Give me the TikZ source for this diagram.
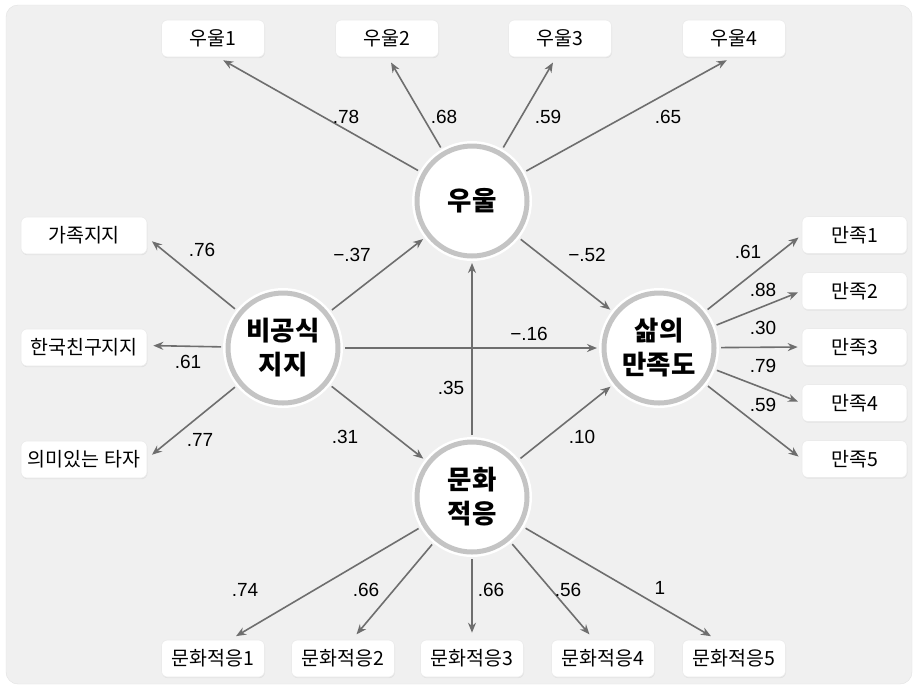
\documentclass[tikz,border=0pt]{standalone}
\usepackage{fontspec}
\setmainfont{Liberation Sans}
\newfontfamily\kr{Noto Sans CJK KR}
\usetikzlibrary{arrows.meta,calc,shadows}
\definecolor{panel}{HTML}{F0F0F0}
\definecolor{panelborder}{HTML}{E2E2E2}
\definecolor{ring}{HTML}{C4C4C4}
\definecolor{linec}{HTML}{6E6E6E}
\begin{document}
\begin{tikzpicture}[x=1pt,y=-1pt,
  latent/.style={circle,minimum size=110pt,inner sep=0pt,fill=white,draw=ring,line width=5pt,
    preaction={draw=white,line width=10pt},outer sep=7pt,
    font=\kr\bfseries\fontsize{26.5}{34}\selectfont,align=center},
  obs/.style={rectangle,rounded corners=6pt,fill=white,draw=black!8,line width=0.6pt,
    minimum height=37pt,inner sep=0pt,font=\kr\fontsize{19.5}{22}\selectfont,
    drop shadow={opacity=0.12,shadow xshift=0.5pt,shadow yshift=-1.2pt}},
  lab/.style={font=\fontsize{19}{21}\selectfont,inner sep=0pt},
  arr/.style={draw=linec,line width=1.6pt,-{Stealth[length=10pt,width=8pt]}}]

% background
\path[use as bounding box,fill=white] (0,0) rectangle (917,689);
\draw[fill=panel,draw=panelborder,rounded corners=12pt] (6,5) rectangle (912,684);

% latent variables
\node[latent] (u) at (472,201) {우울};
\node[latent] (b) at (283,348) {비공식\\지지};
\node[latent] (s) at (659,348) {삶의\\만족도};
\node[latent] (c) at (472,497) {문화\\적응};

% observed: depression
\node[obs,minimum width=103pt] (u1) at (213,38.5) {우울1};
\node[obs,minimum width=103pt] (u2) at (387,38.5) {우울2};
\node[obs,minimum width=103pt] (u3) at (560,38.5) {우울3};
\node[obs,minimum width=103pt] (u4) at (734,38.5) {우울4};

% observed: support
\node[obs,minimum width=126pt] (g1) at (84,235.5) {가족지지};
\node[obs,minimum width=126pt] (g2) at (84,347.5) {한국친구지지};
\node[obs,minimum width=126pt] (g3) at (84,459.5) {의미있는 타자};

% observed: satisfaction
\node[obs,minimum width=105pt] (s1) at (854.5,235) {만족1};
\node[obs,minimum width=105pt] (s2) at (854.5,291) {만족2};
\node[obs,minimum width=105pt] (s3) at (854.5,347) {만족3};
\node[obs,minimum width=105pt] (s4) at (854.5,403) {만족4};
\node[obs,minimum width=105pt] (s5) at (854.5,459) {만족5};

% observed: acculturation
\node[obs,minimum width=103pt] (c1) at (213,658.5) {문화적응1};
\node[obs,minimum width=103pt] (c2) at (343,658.5) {문화적응2};
\node[obs,minimum width=103pt] (c3) at (472,658.5) {문화적응3};
\node[obs,minimum width=103pt] (c4) at (603,658.5) {문화적응4};
\node[obs,minimum width=103pt] (c5) at (734,658.5) {문화적응5};

% measurement arrows
\draw[arr,shorten >=6pt] (u) -- ($(u1.south)+(5,0)$);
\draw[arr,shorten >=6pt] (u) -- ($(u2.south)+(1,0)$);
\draw[arr,shorten >=6pt] (u) -- ($(u3.south)+(-4,0)$);
\draw[arr,shorten >=6pt] (u) -- ($(u4.south)+(-2,0)$);

\draw[arr,shorten >=6pt] (b) -- ($(g1.east)+(0,2)$);
\draw[arr,shorten >=6pt] (b) -- ($(g2.east)+(0,-2)$);
\draw[arr,shorten >=6pt] (b) -- ($(g3.east)+(0,-1)$);

\draw[arr,shorten >=4pt] (s) -- (s1.west);
\draw[arr,shorten >=4pt] (s) -- (s2.west);
\draw[arr,shorten >=4pt] (s) -- (s3.west);
\draw[arr,shorten >=4pt] (s) -- (s4.west);
\draw[arr,shorten >=4pt] (s) -- (s5.west);

\draw[arr,shorten >=7pt] (c) -- ($(c1.north)+(17,0)$);
\draw[arr,shorten >=7pt] (c) -- ($(c2.north)+(9,0)$);
\draw[arr,shorten >=7pt] (c) -- (c3.north);
\draw[arr,shorten >=7pt] (c) -- ($(c4.north)+(-9,0)$);
\draw[arr,shorten >=7pt] (c) -- ($(c5.north)+(-17,0)$);

% structural arrows
\draw[arr] (b) -- (u);
\draw[arr] (b) -- (s);
\draw[arr] (b) -- (c);
\draw[arr] (u) -- (s);
\draw[arr] (c) -- (u);
\draw[arr] (c) -- (s);

% labels
\node[lab] (l1) at (346,117) {.78};
\node[lab] (l2) at (444,117) {.68};
\node[lab] (l3) at (548,117) {.59};
\node[lab] (l4) at (668,117) {.65};
\node[lab] (l5) at (352,255) {−.37};
\node[lab] (l6) at (587,255) {−.52};
\node[lab] (l7) at (529,334) {−.16};
\node[lab] (l8) at (451,388) {.35};
\node[lab] (l9) at (345,437) {.31};
\node[lab] (l10) at (582,437) {.10};
\node[lab] (l11) at (202,250) {.76};
\node[lab] (l12) at (188,362) {.61};
\node[lab] (l13) at (200,440) {.77};
\node[lab] (l14) at (748,252) {.61};
\node[lab] (l15) at (763,290) {.88};
\node[lab] (l16) at (763,328) {.30};
\node[lab] (l17) at (763,366) {.79};
\node[lab] (l18) at (763,405) {.59};
\node[lab] (l19) at (245,590) {.74};
\node[lab] (l20) at (366,590) {.66};
\node[lab] (l21) at (491,590) {.66};
\node[lab] (l22) at (568,590) {.56};
\node[lab] (l23) at (660,588) {1};
\end{tikzpicture}
\end{document}
